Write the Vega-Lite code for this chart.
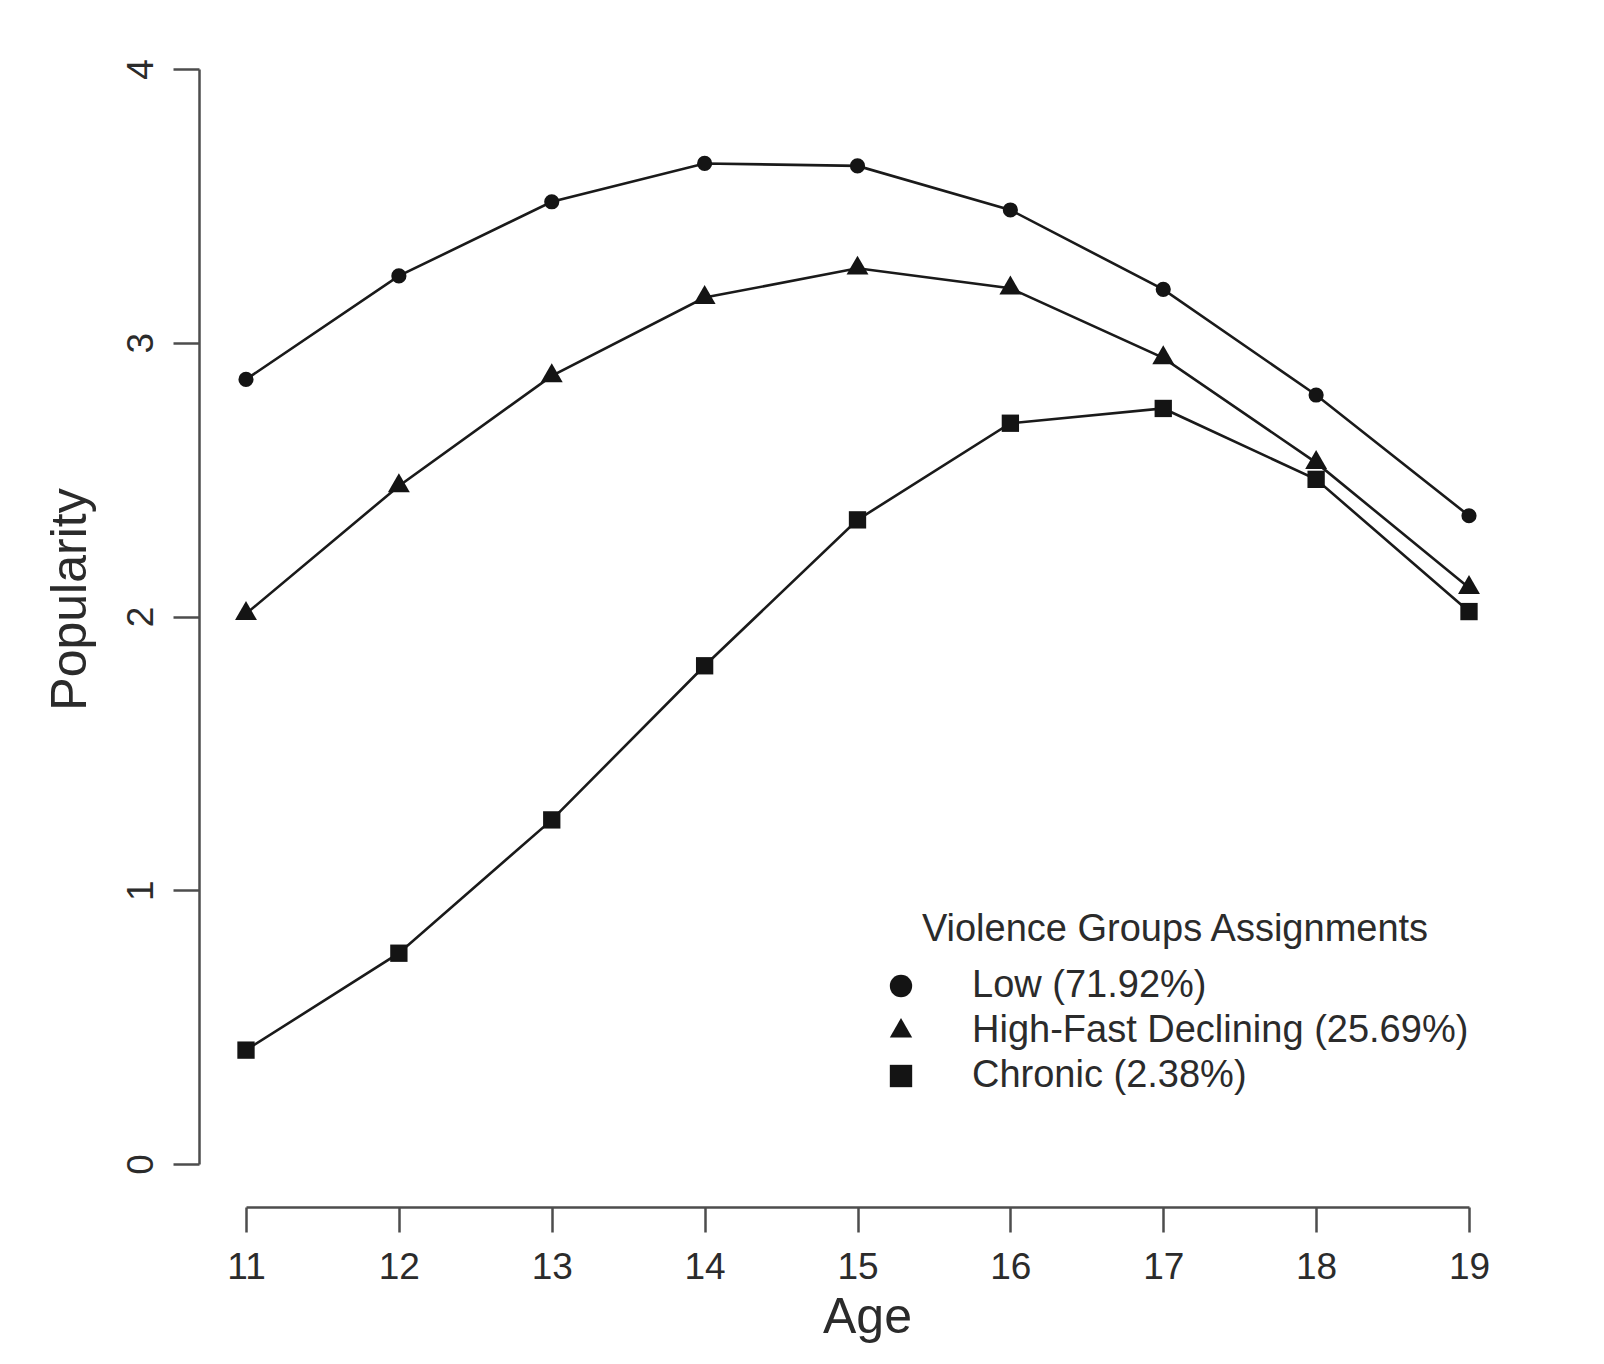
{
  "$schema": "https://vega.github.io/schema/vega-lite/v6.json",
  "autosize": {"type": "none"},
  "width": 1223,
  "height": 1095,
  "padding": {"left": 246, "top": 69, "right": 135, "bottom": 200},
  "background": "white",
  "config": {
    "font": "Liberation Sans",
    "view": {"stroke": null},
    "axis": {"grid": false, "domainColor": "#4d4d4d", "domainWidth": 2.5, "tickColor": "#4d4d4d", "tickWidth": 2.5, "labelColor": "#2b2b2b", "titleColor": "#2b2b2b", "labelFont": "Liberation Sans", "titleFont": "Liberation Sans", "titleFontWeight": "normal"}
  },
  "data": {
    "values": [
      {"age": 11, "popularity": 2.866, "group": "Low (71.92%)"},
      {"age": 12, "popularity": 3.244, "group": "Low (71.92%)"},
      {"age": 13, "popularity": 3.515, "group": "Low (71.92%)"},
      {"age": 14, "popularity": 3.655, "group": "Low (71.92%)"},
      {"age": 15, "popularity": 3.646, "group": "Low (71.92%)"},
      {"age": 16, "popularity": 3.485, "group": "Low (71.92%)"},
      {"age": 17, "popularity": 3.195, "group": "Low (71.92%)"},
      {"age": 18, "popularity": 2.809, "group": "Low (71.92%)"},
      {"age": 19, "popularity": 2.368, "group": "Low (71.92%)"},
      {"age": 11, "popularity": 2.010, "group": "High-Fast Declining (25.69%)"},
      {"age": 12, "popularity": 2.477, "group": "High-Fast Declining (25.69%)"},
      {"age": 13, "popularity": 2.879, "group": "High-Fast Declining (25.69%)"},
      {"age": 14, "popularity": 3.165, "group": "High-Fast Declining (25.69%)"},
      {"age": 15, "popularity": 3.272, "group": "High-Fast Declining (25.69%)"},
      {"age": 16, "popularity": 3.199, "group": "High-Fast Declining (25.69%)"},
      {"age": 17, "popularity": 2.945, "group": "High-Fast Declining (25.69%)"},
      {"age": 18, "popularity": 2.562, "group": "High-Fast Declining (25.69%)"},
      {"age": 19, "popularity": 2.105, "group": "High-Fast Declining (25.69%)"},
      {"age": 11, "popularity": 0.416, "group": "Chronic (2.38%)"},
      {"age": 12, "popularity": 0.770, "group": "Chronic (2.38%)"},
      {"age": 13, "popularity": 1.257, "group": "Chronic (2.38%)"},
      {"age": 14, "popularity": 1.820, "group": "Chronic (2.38%)"},
      {"age": 15, "popularity": 2.353, "group": "Chronic (2.38%)"},
      {"age": 16, "popularity": 2.706, "group": "Chronic (2.38%)"},
      {"age": 17, "popularity": 2.760, "group": "Chronic (2.38%)"},
      {"age": 18, "popularity": 2.501, "group": "Chronic (2.38%)"},
      {"age": 19, "popularity": 2.018, "group": "Chronic (2.38%)"}
    ]
  },
  "encoding": {
    "x": {
      "field": "age", "type": "quantitative",
      "scale": {"domain": [11, 19], "nice": false, "zero": false},
      "axis": {"title": "Age", "values": [11, 12, 13, 14, 15, 16, 17, 18, 19], "offset": 43, "tickSize": 25, "labelFontSize": 37, "labelPadding": 46, "labelBaseline": "alphabetic", "labelFlush": false, "labelOverlap": false, "titleFontSize": 50, "titleBaseline": "alphabetic", "titleAlign": "center", "titleX": 621, "titleY": 125}
    },
    "y": {
      "field": "popularity", "type": "quantitative",
      "scale": {"domain": [0, 4], "nice": false, "zero": false},
      "axis": {"title": "Popularity", "values": [0, 1, 2, 3, 4], "offset": 47, "tickSize": 26, "labelAngle": 270, "labelAlign": "center", "labelBaseline": "alphabetic", "labelFontSize": 37, "labelPadding": 21, "labelFlush": false, "labelOverlap": false, "titleFontSize": 50, "titleAngle": 270, "titleBaseline": "alphabetic", "titleAlign": "center", "titleX": -114, "titleY": 530}
    }
  },
  "layer": [
    {
      "mark": {"type": "line", "color": "#1a1a1a", "strokeWidth": 2.6},
      "encoding": {"detail": {"field": "group"}}
    },
    {
      "transform": [{"filter": "datum.group == 'Low (71.92%)'"}],
      "mark": {"type": "point", "filled": true, "color": "#141414", "opacity": 1, "size": 230},
      "encoding": {
        "shape": {
          "field": "group", "type": "nominal",
          "scale": {"domain": ["Low (71.92%)", "High-Fast Declining (25.69%)", "Chronic (2.38%)"], "range": ["circle", "M0,-1.155L1,0.577L-1,0.577Z", "square"]},
          "legend": {
            "title": "Violence Groups Assignments",
            "orient": "none", "legendX": 636, "legendY": 842,
            "padding": 0,
            "titleFontSize": 38, "titleFontWeight": "normal", "titleColor": "#2b2b2b", "titleAnchor": "middle", "titlePadding": 18, "titleFont": "Liberation Sans", "titleLimit": 0,
            "labelFontSize": 38, "labelColor": "#2b2b2b", "labelFont": "Liberation Sans", "labelOffset": 52, "labelLimit": 0,
            "symbolSize": 500, "symbolFillColor": "#141414", "symbolStrokeWidth": 0, "symbolOpacity": 1,
            "rowPadding": 7,
            "encode": {"symbols": {"update": {"size": {"signal": "datum.value == 'High-Fast Declining (25.69%)' ? 840 : datum.value == 'Low (71.92%)' ? 430 : 490"}}}}
          }
        }
      }
    },
    {
      "transform": [{"filter": "datum.group == 'High-Fast Declining (25.69%)'"}],
      "mark": {"type": "point", "filled": true, "color": "#141414", "opacity": 1, "size": 480},
      "encoding": {"shape": {"field": "group", "type": "nominal"}}
    },
    {
      "transform": [{"filter": "datum.group == 'Chronic (2.38%)'"}],
      "mark": {"type": "point", "filled": true, "color": "#141414", "opacity": 1, "size": 300},
      "encoding": {"shape": {"field": "group", "type": "nominal"}}
    }
  ]
}
